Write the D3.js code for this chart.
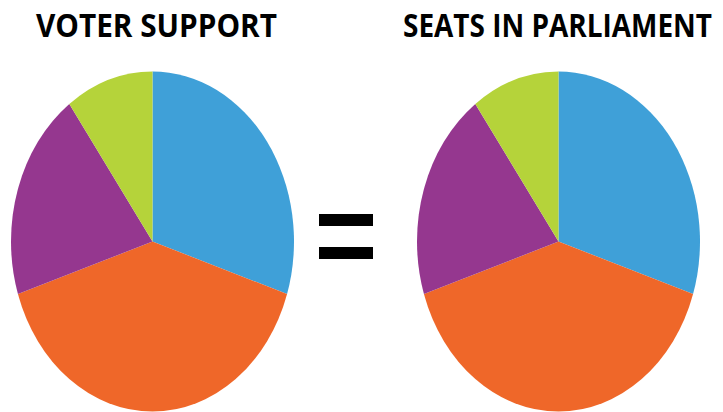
<!DOCTYPE html>
<html>
<head>
<meta charset="utf-8">
<script src="https://d3js.org/d3.v7.min.js"></script>
<style>
  html, body { margin: 0; padding: 0; background: #fff; }
  svg { display: block; }
</style>
</head>
<body>
<div id="chart"></div>
<script>
// party order, clockwise from 12 o'clock
let categories = ["Blue", "Orange", "Purple", "Green"];
let vote_share = [30, 40, 20, 10];
let seat_share = [30, 40, 20, 10];
let titles = ["VOTER SUPPORT", "SEATS IN PARLIAMENT"];

let colours = ["#3fa0d8", "#ef6729", "#95378f", "#b5d33a"];

let width = 723;
let height = 412;

let svg = d3.select("#chart")
  .append("svg")
    .attr("width", width)
    .attr("height", height);

let colour = d3.scaleOrdinal()
  .domain(categories)
  .range(colours);

let pie = d3.pie()
  .sort(null)
  .value(d => d.value);

let rx = 141.5;
let ry = 170;

let arc = d3.arc()
  .innerRadius(0)
  .outerRadius(rx);

let draw_pie = function hst_draw_pie(values, cx, cy, title, title_x, title_w)
{
  let rows = categories.map((c, i) => ({ "name": c, "value": values[i] }));

  let g = svg.append("g")
    .attr("transform", "translate(" + cx + "," + cy + ") scale(1," + (ry / rx) + ")");

  g.selectAll("path")
    .data(pie(rows))
    .enter()
    .append("path")
      .attr("d", arc)
      .attr("fill", d => colour(d.data.name));

  // condensed look: squeeze the title horizontally to the reference width
  let t = svg.append("text")
    .attr("x", 0)
    .attr("y", 0)
    .attr("font-family", "'Open Sans', sans-serif")
    .attr("font-weight", "bold")
    .attr("font-size", 33)
    .attr("fill", "#000")
    .text(title);

  let natural = t.node().getComputedTextLength();
  t.attr("transform", "translate(" + title_x + ",37) scale(" + (title_w / natural) + ",1)");

  return (null);
}

draw_pie(vote_share, 152.5, 241.5, titles[0], 36, 241);
draw_pie(seat_share, 558.5, 241.5, titles[1], 403, 309);

// equals sign between the two pies
svg.append("rect")
  .attr("x", 319).attr("y", 214)
  .attr("width", 54).attr("height", 12)
  .attr("fill", "#000");
svg.append("rect")
  .attr("x", 319).attr("y", 247)
  .attr("width", 54).attr("height", 12)
  .attr("fill", "#000");
</script>
</body>
</html>
